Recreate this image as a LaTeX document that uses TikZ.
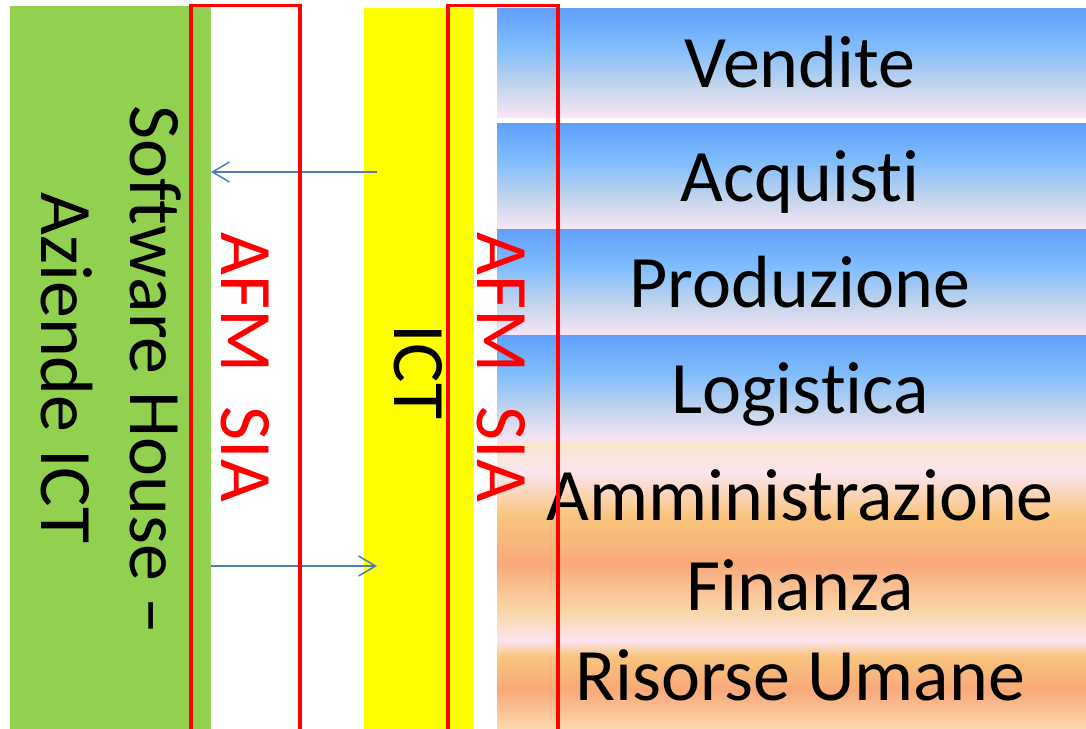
\documentclass[tikz,border=0pt]{standalone}
\usepackage{fontspec}
\setmainfont{Carlito}[Ligatures=NoCommon]
\usetikzlibrary{arrows.meta}
\definecolor{cgreen}{HTML}{92D050}
\definecolor{cyellow}{HTML}{FFFF00}
\definecolor{cred}{HTML}{FF0000}
\definecolor{carrow}{HTML}{4A7EBB}
\definecolor{btop}{HTML}{609FFB}
\definecolor{bmid}{HTML}{80BDFD}
\definecolor{bgray}{HTML}{C2D4EC}
\definecolor{bbot}{HTML}{F8E5F5}
\definecolor{ocream}{HTML}{FAE8CC}
\definecolor{opink}{HTML}{FBE4EE}
\definecolor{oorange}{HTML}{F9C47C}
\definecolor{osalmon}{HTML}{F9A97A}
\definecolor{opeach}{HTML}{FAD8AC}
\pgfdeclareverticalshading{bluegrad}{100bp}{color(0bp)=(bbot); color(25bp)=(bbot); color(40bp)=(bgray); color(57bp)=(bmid); color(75bp)=(btop); color(100bp)=(btop)}
\pgfdeclareverticalshading{orangegrad}{100bp}{color(0bp)=(opeach); color(25bp)=(opeach); color(31.6bp)=(osalmon); color(37.4bp)=(oorange); color(40.3bp)=(opink); color(45bp)=(opeach); color(53.7bp)=(osalmon); color(61.8bp)=(oorange); color(69.4bp)=(opink); color(75bp)=(ocream); color(100bp)=(ocream)}
\begin{document}
\begin{tikzpicture}[x=1pt,y=-1pt,
  lbl/.style={inner sep=0pt, text=black, font=\fontsize{74}{89}\selectfont},
  redlbl/.style={inner sep=0pt, text=cred, font=\fontsize{74}{89}\selectfont},
  sidelbl/.style={lbl, rotate=-90, anchor=base},
  afmlbl/.style={redlbl, rotate=-90, anchor=base},
  deptlbl/.style={lbl, anchor=base},
  bluebox/.style={shading=bluegrad},
  orangebox/.style={shading=orangegrad},
  afmframe/.style={draw=cred, line width=3.2pt},
  flow/.style={draw=carrow, line width=1.5pt, -{Straight Barb[length=17pt,width=20pt]}}]
\useasboundingbox (0,0) rectangle (1086,728);
\clip (0,0) rectangle (1086,728);
% columns
\fill[cgreen] (10,6) rectangle (211,740);
\fill[cyellow] (364,8) rectangle (474,740);
% department boxes
\path[bluebox] (497,8) rectangle (1100,117.5);
\path[bluebox] (497,123) rectangle (1100,229);
\path[bluebox] (497,229) rectangle (1100,335);
\path[bluebox] (497,335) rectangle (1100,441);
\path[orangebox] (497,441) rectangle (1100,728);
% texts
\node[sidelbl] (sw1) at (130,370) {Software House –};
\node[sidelbl] (sw2) at (41,368) {Aziende ICT};
\node[sidelbl] (ict) at (394,372) {ICT};
\node[deptlbl] (vend) at (800,87) {Vendite};
\node[deptlbl] (acq) at (800,201.5) {Acquisti};
\node[deptlbl] (prod) at (800,307) {Produzione};
\node[deptlbl] (log) at (800,413) {Logistica};
\node[deptlbl] (amm) at (800,520) {Amministrazione};
\node[deptlbl] (fin) at (800,610) {Finanza};
\node[deptlbl] (ris) at (800,700) {Risorse Umane};
% arrows
\coordinate (a1s) at (377,172);
\coordinate (a1e) at (211,172);
\coordinate (a2s) at (211,566);
\coordinate (a2e) at (377,566);
\draw[flow] (a1s) -- (a1e);
\draw[flow] (a2s) -- (a2e);
% AFM SIA frames
\draw[afmframe] (191,740) -- (191,5.5) -- (300,5.5) -- (300,740);
\draw[afmframe] (448,740) -- (448,5.5) -- (558,5.5) -- (558,740);
\node[afmlbl] (afm1) at (221,367.5) {AFM\ \ SIA};
\node[afmlbl] (afm2) at (477,367.5) {AFM\ \ SIA};
\end{tikzpicture}
\end{document}
